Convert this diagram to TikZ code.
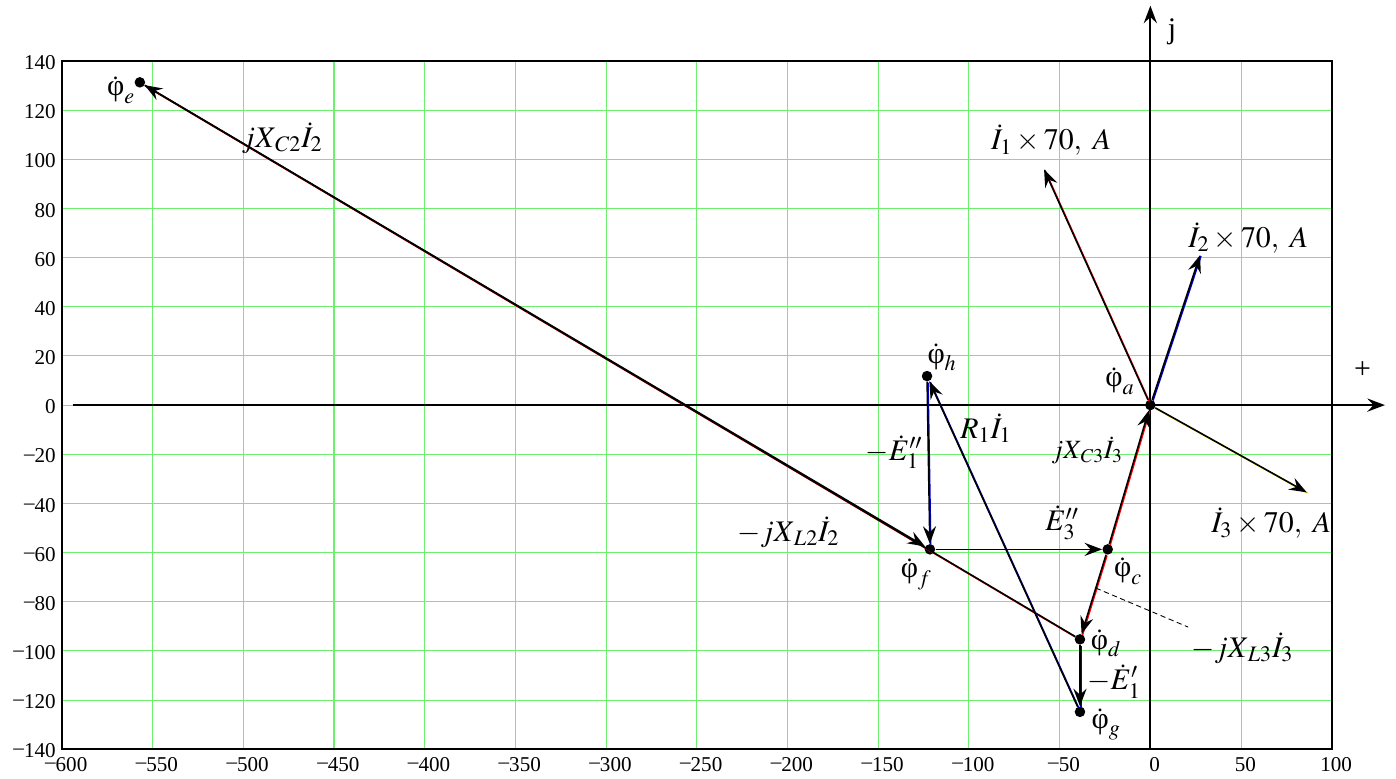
\documentclass[tikz,border=0pt]{standalone}
\usepackage{amsmath}
\usepackage{mathptmx}
\usepackage[no-math]{fontspec}
\setmainfont{Liberation Serif}
\usepackage{xcolor}
\usetikzlibrary{calc, arrows.meta}

\definecolor{gridgreen}{RGB}{110,240,110}
\newcommand{\tneg}{\raisebox{.3ex}{–}}
\newcommand{\phidot}{\dot{\text{φ}}}

\tikzset{
  gridln/.style={gridgreen, line width=0.6pt},
  frameln/.style={black, line width=1.2pt},
  axisln/.style={black, line width=1.1pt},
  pnt/.style={circle, fill=black, inner sep=0pt, minimum size=6pt},
  lbl/.style={font=\fontsize{17}{20}\selectfont, inner sep=0pt},
  lblsm/.style={font=\fontsize{15}{18}\selectfont, inner sep=0pt},
  ticklbl/.style={font=\fontsize{12}{14}\selectfont},
  vec/.style={->, line width=0.9pt},
  redvec/.style={vec, preaction={draw=red, -, line width=0.9pt, transform canvas={shift={(0.5pt,-0.5pt)}}}},
  bluevec/.style={vec, preaction={draw=blue!80!black, -, line width=0.9pt, transform canvas={shift={(0.5pt,-0.5pt)}}}},
  olivevec/.style={vec, preaction={draw=yellow!70!olive, -, line width=0.9pt, transform canvas={shift={(0.4pt,-0.4pt)}}}},
}

\begin{document}
\begin{tikzpicture}[x=0.03628cm, y=0.04916cm, >={Stealth[length=10pt, width=7.5pt, inset=3.5pt]}]
    \useasboundingbox (-634.1,-151.75) rectangle (135.4,164.8);

    % =================================================================
    % 1. GRID, FRAME AND SCALE NUMBERS
    % =================================================================
    \foreach \gx in {-600,-550,...,100}
        \draw[gridln] (\gx,-140) -- (\gx,140);
    \foreach \gy in {-140,-120,...,140}
        \draw[gridln] (-600,\gy) -- (100,\gy);
    \draw[frameln] (-600,-140) rectangle (100,140);

    \foreach \v in {20,40,...,140}
        \node[ticklbl, left, yshift=-1pt] at (-600,-\v) {\tneg\v};
    \foreach \v in {0,20,...,140}
        \node[ticklbl, left, yshift=-1pt] at (-600,\v) {\v};
    \foreach \v in {50,100,...,600}
        \node[ticklbl, below, xshift=2.5pt, yshift=-1pt] at (-\v,-140) {\tneg\v};
    \foreach \v in {0,50,100}
        \node[ticklbl, below, xshift=2.5pt, yshift=-1pt] at (\v,-140) {\v};

    % =================================================================
    % 2. AXES
    % =================================================================
    \coordinate (xl) at (-594,0);
    \coordinate (xr) at (129.3,0);
    \coordinate (yb) at (0,-140);
    \coordinate (yt) at (0,162.5);
    \draw[axisln, ->] (xl) -- (xr);
    \draw[axisln, ->] (yb) -- (yt);
    \node[lbl] (plus) at (117,14.2) {+};
    \node[lbl] (jlab) at (12,152) {j};

    % =================================================================
    % 3. POTENTIAL POINTS
    % =================================================================
    \node[pnt] (a) at (0,0) {};
    \node[pnt] (c) at (-23.5,-58.7) {};
    \node[pnt] (d) at (-38.8,-95.3) {};
    \node[pnt] (e) at (-557,131.3) {};
    \node[pnt] (f) at (-121.5,-58.7) {};
    \node[pnt] (g) at (-38.8,-124.8) {};
    \node[pnt] (h) at (-123.1,11.8) {};
    \coordinate (i1) at (-58.6,95.9);
    \coordinate (i2) at (27.4,61);
    \coordinate (i3) at (86.2,-35.5);

    % =================================================================
    % 4. VECTORS
    % =================================================================
    \draw[redvec] (c) -- (a);
    \draw[redvec] (c) -- (d);
    \draw[redvec] (d) -- (e);
    \draw[vec] (e) -- (f);
    \draw[vec] (f) -- (c);
    \draw[bluevec] (h) -- (f);
    \draw[bluevec] (g) -- (h);
    \draw[bluevec] (d) -- (g);
    \draw[redvec] (a) -- (i1);
    \draw[bluevec] (a) -- (i2);
    \draw[olivevec] (a) -- (i3);

    % leader for -jX_L3 I_3
    \coordinate (cd) at ($(c)!0.43!(d)$);
    \coordinate (ldr) at (20.8,-90.3);
    \draw[dashed, line width=0.5pt, dash pattern=on 3pt off 2pt] (cd) -- (ldr);

    % =================================================================
    % 5. LABELS
    % =================================================================
    \node[lbl] (la) at (-16.7,9.8) {$\phidot_a$};
    \node[lbl] (lc) at (-12.3,-67.5) {$\phidot_c$};
    \node[lbl] (ld) at (-24.4,-97) {$\phidot_d$};
    \node[lbl] (le) at (-567.4,128.2) {$\phidot_e$};
    \node[lbl] (lf) at (-129,-68.8) {$\phidot_f$};
    \node[lbl] (lg) at (-24.4,-130) {$\phidot_g$};
    \node[lbl] (lh) at (-114.8,19.5) {$\phidot_h$};

    \node[lbl] (lxc2) at (-478.6,108.6) {$jX_{\,C2}\dot{I}_2$};
    \node[lbl] (lxl2) at (-199.6,-51.7) {$-jX_{\,L2}\dot{I}_2$};
    \node[lblsm] (lxc3) at (-34.9,-18.3) {$jX_{\,C3}\dot{I}_3$};
    \node[lbl] (lxl3) at (50.6,-98.9) {$-jX_{\,L3}\dot{I}_3$};
    \node[lbl] (lr1) at (-90.6,-9.4) {$R_1\dot{I}_1$};
    \node[lbl] (le1b) at (-141.3,-19.1) {$-\dot{E}''_1$};
    \node[lbl] (le1a) at (-20,-112.5) {$-\dot{E}'_1$};
    \node[lbl] (le3) at (-48.7,-48) {$\dot{E}''_3$};

    \node[lbl] (li1) at (-54.7,107.8) {$\dot{I}_1\times 70,\ A$};
    \node[lbl] (li2) at (54,68) {$\dot{I}_2\times 70,\ A$};
    \node[lbl] (li3) at (66.6,-48) {$\dot{I}_3\times 70,\ A$};

\end{tikzpicture}
\end{document}
